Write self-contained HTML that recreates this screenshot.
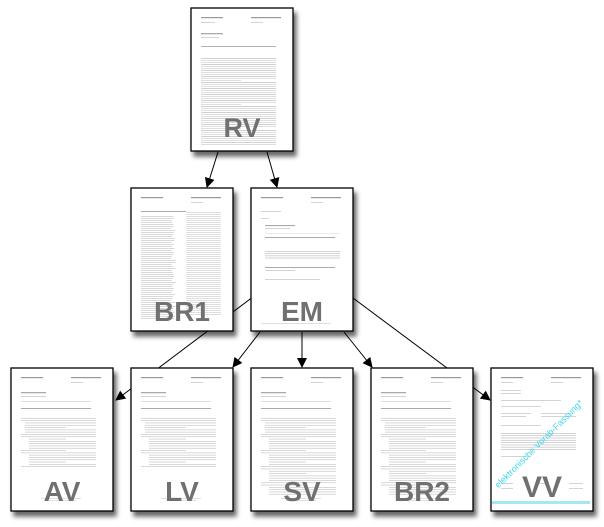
<!DOCTYPE html>
<html><head><meta charset="utf-8"><style>
html,body{margin:0;padding:0;background:#fff;width:604px;height:527px;overflow:hidden}
svg{display:block}
.lbl{font-family:"Liberation Sans",sans-serif;font-weight:bold;fill:#707070;text-anchor:middle}
</style></head><body>
<svg id="s" width="604" height="527" viewBox="0 0 604 527" xmlns="http://www.w3.org/2000/svg">
<defs>
<marker id="ar" markerWidth="10" markerHeight="10" refX="9" refY="5" orient="auto" markerUnits="userSpaceOnUse"><path d="M0,0 L10,5 L0,10 z" fill="#000"/></marker>
<filter id="sh" x="-20%" y="-20%" width="150%" height="150%"><feGaussianBlur in="SourceAlpha" stdDeviation="2.5"/><feOffset dx="3" dy="5"/><feComponentTransfer><feFuncA type="linear" slope="0.6"/></feComponentTransfer><feMerge><feMergeNode/><feMergeNode in="SourceGraphic"/></feMerge></filter>
</defs>
<g stroke="#000" stroke-width="1" fill="none" marker-end="url(#ar)">
<line x1="218" y1="152" x2="207" y2="187"/>
<line x1="267" y1="152" x2="277" y2="187"/>
<line x1="302" y1="260" x2="116" y2="400"/>
<line x1="260" y1="332" x2="233" y2="367"/>
<line x1="302" y1="332" x2="302" y2="367"/>
<line x1="344" y1="332" x2="372" y2="367"/>
<line x1="302" y1="260" x2="490" y2="400"/>
</g>
<g id="docs"></g>
</svg>
<script>
var docs=[
 {x:191,y:8,l:"RV",t:"rv"},
 {x:131,y:188,l:"BR1",t:"br1"},
 {x:251,y:188,l:"EM",t:"em"},
 {x:11,y:368,l:"AV",t:"av"},
 {x:131,y:368,l:"LV",t:"lv"},
 {x:251,y:368,l:"SV",t:"sv"},
 {x:371,y:368,l:"BR2",t:"br2"},
 {x:491,y:368,l:"VV",t:"vv"}];
var g=document.getElementById('docs'),NS="http://www.w3.org/2000/svg";
function el(n,a,p){var e=document.createElementNS(NS,n);for(var k in a)e.setAttribute(k,a[k]);(p||g).appendChild(e);return e;}
var seed=7;function r(){seed=(seed*9301+49297)%233280;return seed/233280;}
docs.forEach(function(d){
 var grp=el('g',{});
 el('rect',{x:d.x,y:d.y,width:102,height:143,fill:'#fff',stroke:'#000','stroke-width':1.3,filter:'url(#sh)'},grp);
 var x=d.x,y=d.y;
 function ln(a,b,w,h,c){el('rect',{x:x+a,y:y+b,width:w,height:h||0.8,fill:c||'#c8c8c8'},grp);}
 ln(10,9,22,1.2,'#999');ln(60,9,30,1.2,'#999');
 ln(60,14,12);
 if(d.t=='rv'){ln(10,14,14);ln(10,25,22,1.3,'#aaa');ln(10,29,18);ln(10,38,75,0.9,'#aaa');
  for(var i=0;i<44;i++){ln(10,50+i*2,i%12==11?40:75,0.7,i%3?'#d0d0d0':'#bbb');}}
 else if(d.t=='br1'){ln(10,23,45,1,'#aaa');
  for(var i=0;i<52;i++){ln(10,28+i*2,30+r()*5,0.7,'#c8c8c8');ln(55,24+i*2,35,0.7,'#d0d0d0');}}
 else if(d.t=='em'){ln(10,23,20);ln(10,30,8);ln(14,37,30,1.1,'#aaa');ln(14,40,25);ln(14,45,75,0.6,'#ddd');ln(14,49,70,1,'#aaa');
  for(var i=0;i<4;i++)ln(14,63+i*2.2,75);ln(14,79,70,1,'#aaa');ln(14,82,30);ln(14,91,55);
  ln(10,135,70,0.6);}
 else if(d.t=='vv'){ln(10,14,12);ln(10,22,20);ln(10,25,20);ln(10,32,60);ln(10,38,40);ln(10,45,30);ln(50,45,30);ln(10,48,25);ln(50,48,35);ln(10,57,40);
  for(var i=0;i<8;i++)ln(10,65+i*2.3,75);ln(10,88,30);ln(10,115,12);ln(10,120,12);ln(45,115,12);ln(78,115,14);ln(78,120,14);
  el('text',{x:x+50,y:y+78,transform:'rotate(-45 '+(x+50)+' '+(y+78)+')','font-family':'Liberation Sans,sans-serif','font-size':'9',fill:'#3fd6ee','text-anchor':'middle'},grp).textContent='elektronische Vorab-Fassung*';
  el('rect',{x:x+1,y:y+133,width:98,height:3,fill:'#a5e8f5'},grp);}
 else {ln(10,24,25,1.3,'#aaa');ln(10,28,25);ln(10,33,70,0.6);ln(10,40,70,1,'#aaa');
  var n=d.t=='sv'||d.t=='br2'?34:22;
  for(var i=0;i<n;i++){var ind=(i%7<2)?0:(i>8?8:4);ln(10+ind,50+i*2.3,75-ind-(i%5==4?30:0),0.7,'#c8c8c8');}
  ln(30,130,40,0.6,'#ccc');ln(35,132,30,0.6,'#ccc');}
 var t=el('text',{x:x+51,y:y+(d.t=='rv'?129:133),'class':'lbl','font-size':28},grp);
 if(d.t=='rv')t.setAttribute('font-size',27);
 if(d.t=='vv'){t.setAttribute('font-size',30);t.setAttribute('font-weight','normal');t.setAttribute('y',y+129);}
 t.textContent=d.l;
});
</script>
</body></html>
